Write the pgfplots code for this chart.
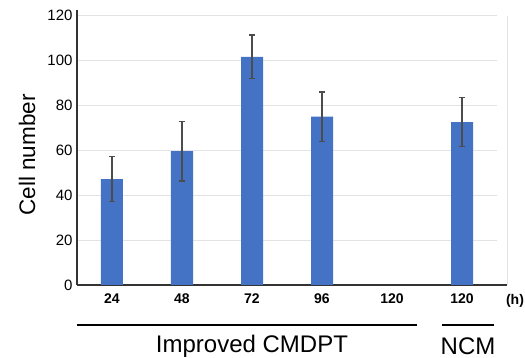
\documentclass[border=0pt]{standalone}
\usepackage{pgfplots}
\pgfplotsset{compat=1.18}
\usepackage{fontspec}
\setmainfont{Liberation Sans}
\definecolor{barblue}{HTML}{4472C4}
\begin{document}
\begin{tikzpicture}
\useasboundingbox (-77pt,-73pt) rectangle (448pt,285pt);
\begin{axis}[
  at={(0pt,0pt)}, anchor=south west,
  scale only axis, width=420pt, height=274.5pt,
  xmin=-0.5, xmax=5.5, ymin=0, ymax=122,
  axis x line*=bottom, axis y line*=left,
  axis line style={-, line width=1.5pt, color=black!80},
  ytick={0,20,...,120},
  ymajorgrids, grid style={color=gray!22, line width=0.7pt},
  major tick length=0pt,
  xtick={0,...,5}, xticklabels={24,48,72,96,120,120},
  xticklabel style={font=\bfseries\fontsize{14}{14}\selectfont, yshift=-5pt},
  yticklabel style={font=\fontsize{15}{15}\selectfont, xshift=-1pt},
  /pgf/number format/assume math mode=true,
  clip=false,
]
\addplot[ybar, bar width=22pt, fill=barblue, draw=none,
  error bars/.cd, y dir=both, y explicit,
  error bar style={line width=1.3pt, color=black!70},
  error mark options={rotate=90, mark size=3pt, line width=1.3pt, color=black!70}]
  coordinates {
    (0,47)   +- (0,10)
    (1,59.5) +- (0,13.3)
    (2,101.4) +- (0,9.7)
    (3,74.8) +- (0,11)
    (5,72.4) +- (0,10.8)
  };
\end{axis}
\draw[line width=1.5pt, black!80] (419pt,0pt) -- (430pt,0pt);
\draw[line width=0.7pt, gray!22] (430pt,0pt) -- (430pt,269pt);
\node[font=\bfseries\fontsize{14}{14}\selectfont] at (438pt,-16pt) {(h)};
\node[rotate=90, font=\fontsize{22.5}{22.5}\selectfont] at (-50pt,130pt) {Cell number};
\draw[line width=1.8pt, black] (0pt,-40pt) -- (340pt,-40pt);
\draw[line width=1.8pt, black] (365pt,-40pt) -- (417pt,-40pt);
\node[font=\fontsize{24}{24}\selectfont] at (175pt,-61pt) {Improved CMDPT};
\node[font=\fontsize{24}{24}\selectfont] at (391pt,-61pt) {NCM};
\end{tikzpicture}
\end{document}
